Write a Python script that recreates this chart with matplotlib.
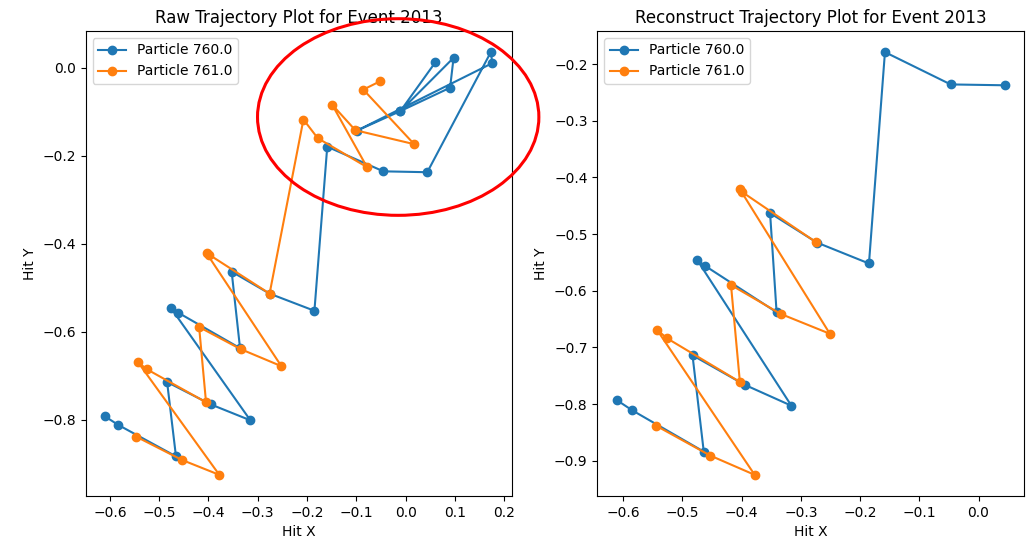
import matplotlib
matplotlib.use("Agg")
import matplotlib.pyplot as plt
from matplotlib.patches import Ellipse

# raw hits, particle 760
raw_x_760 = [-0.610, -0.584, -0.466, -0.484, -0.395, -0.315, -0.476, -0.462, -0.336, -0.353,
             -0.276, -0.185, -0.159, -0.045, 0.044, 0.173, 0.176, -0.099, -0.0105, 0.0974,
             0.0903, -0.0105, 0.0603]
raw_y_760 = [-0.792, -0.811, -0.883, -0.714, -0.765, -0.801, -0.546, -0.556, -0.637, -0.463,
             -0.513, -0.552, -0.179, -0.235, -0.237, 0.036, 0.011, -0.1426, -0.098, 0.0232,
             -0.0449, -0.098, 0.0127]

# raw hits, particle 761
raw_x_761 = [-0.547, -0.454, -0.378, -0.543, -0.525, -0.405, -0.419, -0.335, -0.252, -0.404,
             -0.398, -0.276, -0.2073, -0.1783, -0.0783, -0.1492, -0.102, 0.0174, -0.0858, -0.052]
raw_y_761 = [-0.838, -0.891, -0.925, -0.669, -0.685, -0.760, -0.589, -0.639, -0.678, -0.421,
             -0.425, -0.513, -0.1172, -0.1596, -0.2254, -0.0832, -0.1415, -0.1732, -0.0492, -0.0304]

# reconstructed tracks
rec_x_760 = [-0.611, -0.585, -0.464, -0.483, -0.395, -0.316, -0.475, -0.462, -0.341, -0.352,
             -0.273, -0.185, -0.158, -0.047, 0.044]
rec_y_760 = [-0.793, -0.811, -0.884, -0.714, -0.766, -0.803, -0.546, -0.556, -0.638, -0.463,
             -0.515, -0.552, -0.179, -0.236, -0.2375]
rec_x_761 = [-0.545, -0.453, -0.378, -0.543, -0.526, -0.403, -0.418, -0.334, -0.251, -0.403,
             -0.399, -0.275]
rec_y_761 = [-0.838, -0.891, -0.925, -0.669, -0.684, -0.761, -0.590, -0.641, -0.676, -0.421,
             -0.426, -0.514]

fig = plt.figure(figsize=(10.32, 5.4), dpi=100)
ax1 = fig.add_axes([0.083, 0.0815, 0.4128, 0.8611])
ax2 = fig.add_axes([0.5788, 0.0815, 0.4134, 0.8611])

ax1.plot(raw_x_760, raw_y_760, marker='o', label='Particle 760.0')
ax1.plot(raw_x_761, raw_y_761, marker='o', label='Particle 761.0')
ax1.set_title('Raw Trajectory Plot for Event 2013')
ax1.set_xlabel('Hit X')
ax1.set_ylabel('Hit Y')
ax1.legend(loc='upper left')

ax2.plot(rec_x_760, rec_y_760, marker='o', label='Particle 760.0')
ax2.plot(rec_x_761, rec_y_761, marker='o', label='Particle 761.0')
ax2.set_title('Reconstruct Trajectory Plot for Event 2013')
ax2.set_xlabel('Hit X')
ax2.set_ylabel('Hit Y')
ax2.legend(loc='upper left')

# red circle drawn over the top-right cluster (add_artist keeps the limits unchanged)
ell = Ellipse((-0.015, -0.1115), 0.571, 0.447, fill=False, edgecolor='red',
              linewidth=2.2, clip_on=False, zorder=5, transform=ax1.transData)
ax1.add_artist(ell)

fig.savefig('out.png', dpi=100)
